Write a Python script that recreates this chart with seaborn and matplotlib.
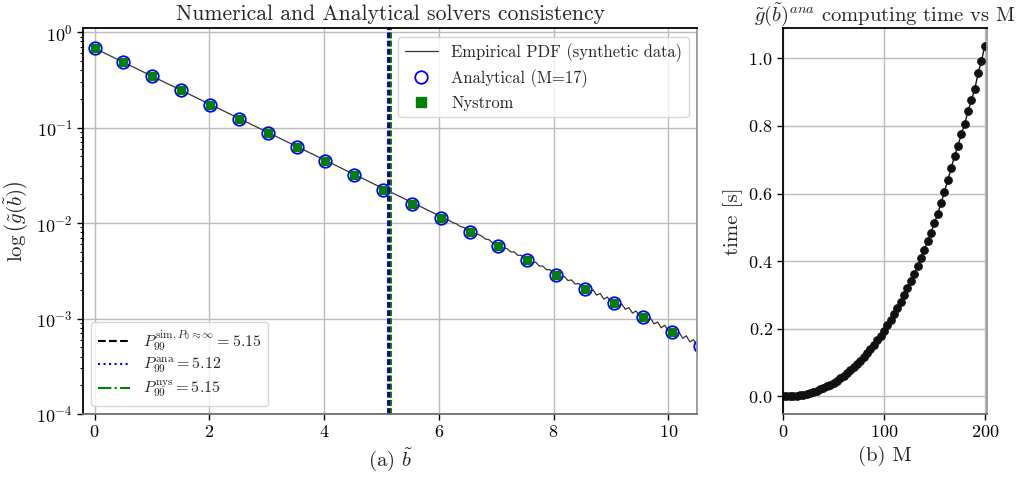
import numpy as np
import matplotlib
matplotlib.use("Agg")
import matplotlib.pyplot as plt
from matplotlib.lines import Line2D
import seaborn as sns

sns.set_theme(style="whitegrid")
plt.rcParams["font.family"] = "serif"
plt.rcParams["font.serif"] = ["cmr10", "DejaVu Serif"]
plt.rcParams["mathtext.fontset"] = "cm"
plt.rcParams["axes.formatter.use_mathtext"] = True
plt.rcParams["axes.unicode_minus"] = False

# --- left panel data ---
b_nodes = [0.0, 0.50, 1.01, 1.51, 2.01, 2.52, 3.02, 3.52, 4.02, 4.53, 5.03,
           5.53, 6.04, 6.54, 7.04, 7.54, 8.05, 8.55, 9.05, 9.56, 10.06, 10.56]
g_analytical = [0.68, 0.484, 0.345, 0.246, 0.174, 0.124, 0.0885, 0.0626, 0.0446,
                0.0318, 0.0224, 0.0159, 0.0114, 0.0081, 0.0057, 0.0041, 0.00289,
                0.00206, 0.00146, 0.00104, 0.00073, 0.00052]
g_nystrom = [0.68, 0.484, 0.345, 0.246, 0.174, 0.124, 0.0885, 0.0626, 0.0446,
             0.0318, 0.0224, 0.0159, 0.0114, 0.0081, 0.0057, 0.0041, 0.00289,
             0.00206, 0.00146, 0.00104, 0.00073, 0.00052]

g_emp_head = [0.680, 0.625, 0.575, 0.528, 0.486, 0.447, 0.411, 0.377, 0.347, 0.319,
              0.293, 0.270, 0.248, 0.228, 0.2095, 0.1926, 0.1771, 0.1628, 0.1497,
              0.1376, 0.1265, 0.1163, 0.1069, 0.0983, 0.0904, 0.0831, 0.0764, 0.0702,
              0.0646, 0.0594, 0.0546, 0.0502, 0.0461, 0.0424, 0.0390, 0.0358, 0.0330,
              0.0303, 0.0279, 0.0256, 0.0235, 0.0216, 0.0199, 0.0183, 0.0168, 0.01546,
              0.01421, 0.01307]
g_emp_tail = [0.0120, 0.0116, 0.0110, 0.0106, 0.0101, 0.0098, 0.0092, 0.0090, 0.0085,
              0.0083, 0.0078, 0.0076, 0.0073, 0.0068, 0.0067, 0.0062, 0.0061, 0.0059,
              0.0055, 0.0054, 0.0050, 0.0050, 0.0046, 0.0046, 0.00425, 0.00420, 0.00385,
              0.00390, 0.00355, 0.00355, 0.00325, 0.00325, 0.00300, 0.00300, 0.00272,
              0.00276, 0.00250, 0.00254, 0.00230, 0.00233, 0.00214, 0.00216, 0.00193,
              0.00200, 0.00176, 0.00183, 0.00160, 0.00168, 0.00150, 0.00153, 0.00136,
              0.00142, 0.00125, 0.00130, 0.00114, 0.00120, 0.00105, 0.00110, 0.00096,
              0.00101, 0.00088, 0.00092, 0.00080, 0.00085, 0.00074, 0.00078, 0.00068,
              0.00072, 0.00062, 0.00066, 0.00057, 0.00060, 0.00052]
b_emp = np.concatenate([np.arange(len(g_emp_head)) * 0.125,
                        np.linspace(6.0, 10.5, len(g_emp_tail))])
g_emp = np.array(g_emp_head + g_emp_tail)

p99_sim = 5.15
p99_ana = 5.12
p99_nys = 5.15

# --- right panel data ---
M_vals = np.linspace(0, 200, 61)
t_vals = [0.0, 0.00015, 0.0006, 0.0014, 0.0025, 0.0039, 0.0057, 0.0079, 0.0105, 0.0135,
          0.0169, 0.0207, 0.0250, 0.0297, 0.0349, 0.0406, 0.0468, 0.0536, 0.0608, 0.0687,
          0.0770, 0.0860, 0.0955, 0.1057, 0.1165, 0.1279, 0.1400, 0.1527, 0.1661, 0.1802,
          0.1950, 0.2105, 0.2268, 0.2438, 0.2616, 0.2802, 0.2995, 0.3197, 0.3407, 0.3625,
          0.3852, 0.4087, 0.4332, 0.4585, 0.4847, 0.5119, 0.5400, 0.572, 0.605, 0.640,
          0.676, 0.710, 0.742, 0.775, 0.805, 0.843, 0.876, 0.908, 0.956, 0.992, 1.037]

fig = plt.figure(figsize=(10.29, 4.79), dpi=100)
ax1 = fig.add_axes([0.0807, 0.1357, 0.5967, 0.8053])
ax2 = fig.add_axes([0.761, 0.1357, 0.198, 0.8053])

# left panel
sns.lineplot(x=b_emp, y=g_emp, ax=ax1, color="#333333", linewidth=0.9)
sns.lineplot(x=b_nodes, y=g_analytical, ax=ax1, marker="o", linestyle="",
             markersize=9, markerfacecolor="none", markeredgecolor="blue",
             markeredgewidth=1.3)
sns.lineplot(x=b_nodes, y=g_nystrom, ax=ax1, marker="s", linestyle="",
             markersize=6, color="green", markeredgecolor="green")
ax1.axvline(p99_sim, color="black", linestyle="--", linewidth=1.4, dashes=(3, 1.2))
ax1.axvline(p99_ana - 0.005, color="blue", linestyle="--", linewidth=1.4, dashes=(3, 1.2))
ax1.axvline(p99_nys + 0.022, color="green", linestyle="--", linewidth=1.4, dashes=(3, 1.2))

ax1.set_yscale("log")
ax1.set_xlim(-0.2, 10.5)
ax1.set_ylim(1e-4, 1.1)
ax1.set_title("Numerical and Analytical solvers consistency", fontsize=15.6)
ax1.set_xlabel(r"(a) $\tilde{b}$", fontsize=15)
ax1.set_ylabel(r"$\log\left(\tilde{g}(\tilde{b})\right)$", fontsize=15)

h1 = [Line2D([], [], color="#333333", linewidth=0.9),
      Line2D([], [], marker="o", linestyle="", markersize=9, markerfacecolor="none",
             markeredgecolor="blue", markeredgewidth=1.3),
      Line2D([], [], marker="s", linestyle="", markersize=7, color="green")]
leg1 = ax1.legend(h1, ["Empirical PDF (synthetic data)", "Analytical (M=17)", "Nystrom"],
                  loc="upper right", fontsize=11.9, frameon=True, labelspacing=0.45)
ax1.add_artist(leg1)
h2 = [Line2D([], [], color="black", linestyle="--", linewidth=1.5),
      Line2D([], [], color="blue", linestyle=":", linewidth=1.5),
      Line2D([], [], color="green", linestyle="-.", linewidth=1.5)]
ax1.legend(h2, [r"$P_{99}^{\mathrm{sim},P_0\approx\infty}=%.2f$" % p99_sim,
                r"$P_{99}^{\mathrm{ana}}=%.2f$" % p99_ana,
                r"$P_{99}^{\mathrm{nys}}=%.2f$" % p99_nys],
           loc="lower left", fontsize=11.6, frameon=True, labelspacing=0.2)

# right panel
sns.lineplot(x=M_vals, y=t_vals, ax=ax2, marker="o", color="#111111",
             markersize=5.5, linewidth=1, markeredgecolor="#111111")
ax2.set_xlim(0, 202)
ax2.set_xticks([0, 100, 200])
ax2.set_yticks([0.0, 0.2, 0.4, 0.6, 0.8, 1.0])
ax2.set_title(r"$\tilde{g}(\tilde{b})^{ana}$ computing time vs M", fontsize=14.8, pad=-0.5)
ax2.set_xlabel("(b) M", fontsize=15)
ax2.set_ylabel("time [s]", fontsize=15)

for ax in (ax1, ax2):
    ax.grid(True, color="#bbbbbb", linewidth=1)
    ax.tick_params(axis="both", which="both", labelsize=13, colors="black",
                   bottom=True, left=True, direction="out")
    ax.tick_params(axis="both", which="major", length=4, width=1)
    ax.tick_params(axis="y", which="minor", length=2.5, width=0.8)
    ax.spines["left"].set_color("black")
    ax.spines["top"].set_color("black")
    ax.spines["bottom"].set_color("#6e6e6e")
    ax.spines["right"].set_color("#9a9a9a")
    for s in ax.spines.values():
        s.set_linewidth(1.3)

fig.savefig("out.png", dpi=100)
